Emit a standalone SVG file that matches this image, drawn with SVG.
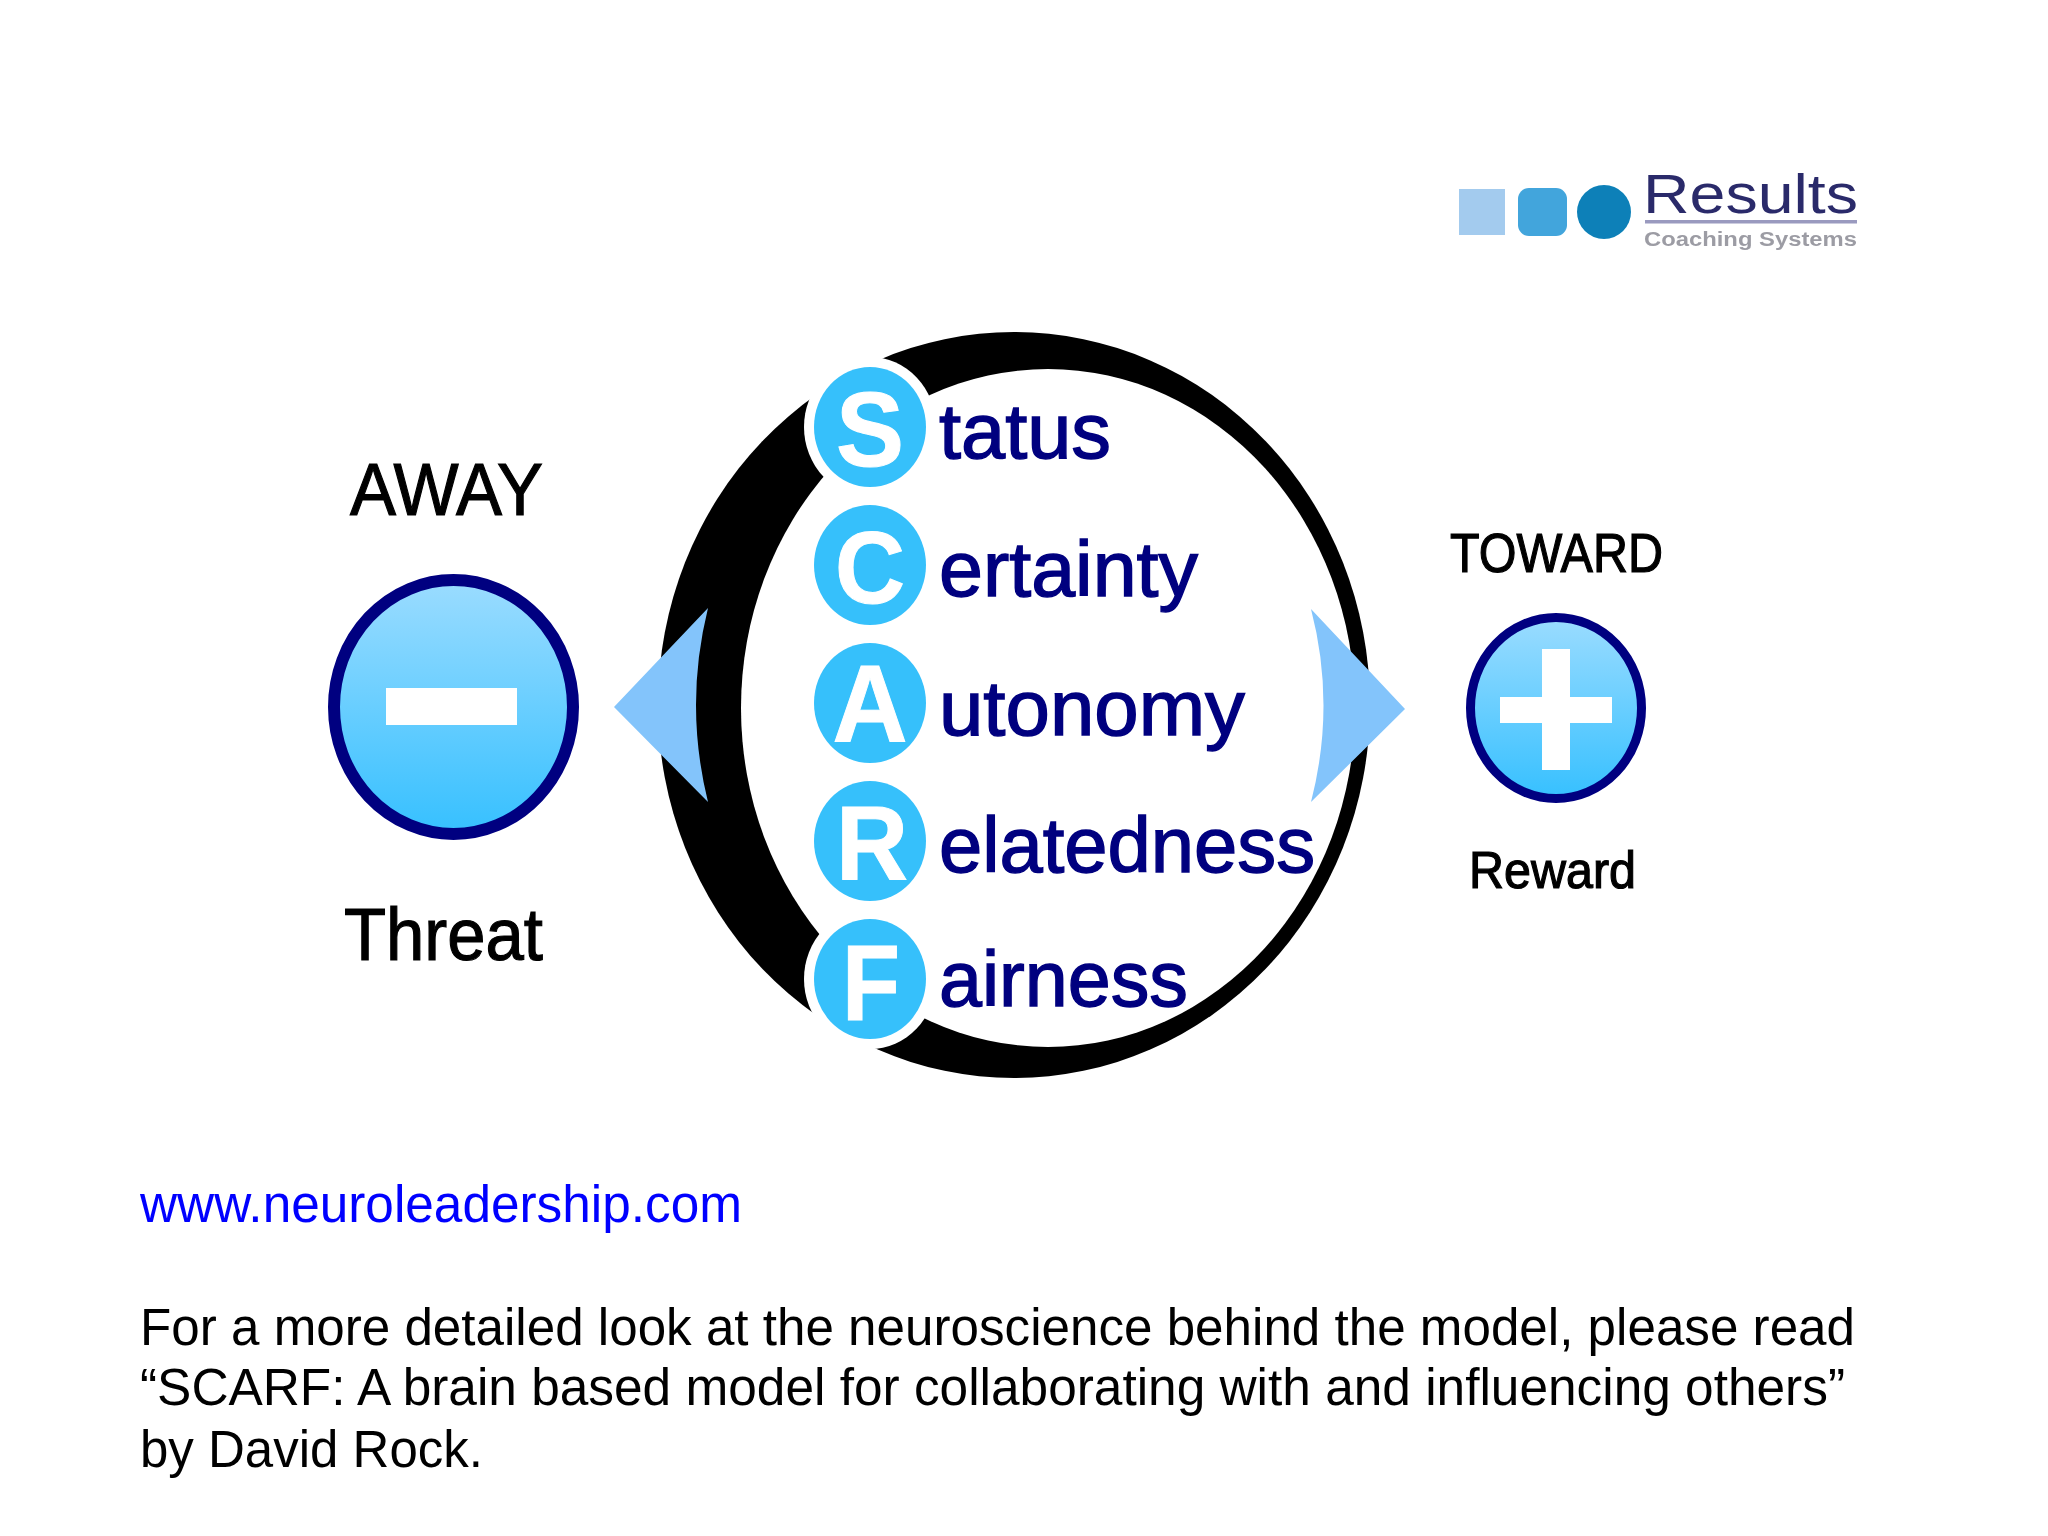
<svg xmlns="http://www.w3.org/2000/svg" width="2048" height="1536" viewBox="0 0 2048 1536">
<defs>
<linearGradient id="bg" x1="0" y1="0" x2="0" y2="1"><stop offset="0" stop-color="#9bdcff"/><stop offset="1" stop-color="#36c0ff"/></linearGradient>
<filter id="soft" x="-5%" y="-5%" width="110%" height="110%"><feGaussianBlur stdDeviation="0.7"/></filter>
</defs>
<style>
text{font-family:"Liberation Sans",Arial,sans-serif}
.word{font-size:78px;fill:#00007f;stroke:#00007f;stroke-width:1.400}
.letter{font-weight:700;fill:#fff;text-anchor:middle;stroke:#fff;stroke-width:1}
.disc{fill:#36c0fb}
.halo{fill:#fff}
.arrow{fill:#83c4fb}
.face{fill:url(#bg);stroke:#000080}
.mark{fill:#fff}
.label{fill:#000;stroke:#000;stroke-width:1.200}
.body{font-size:51px;fill:#000}
</style>
<rect width="2048" height="1536" fill="#fff"/>
<g id="logo">
<rect x="1459" y="189" width="46" height="46" fill="#a3cbee" filter="url(#soft)"/>
<rect x="1518" y="188" width="49" height="48" rx="11" fill="#42a5dc" filter="url(#soft)"/>
<circle cx="1604" cy="212" r="27" fill="#0a80b8" filter="url(#soft)"/>
<text x="1643" y="213" font-size="56" fill="#2b2b6b" textLength="215" lengthAdjust="spacingAndGlyphs" filter="url(#soft)">Results</text>
<rect x="1645" y="220" width="212" height="3.500" fill="#9a9abf" filter="url(#soft)"/>
<text x="1644" y="246" font-size="20" font-weight="700" fill="#9c9ca4" textLength="213" lengthAdjust="spacingAndGlyphs" filter="url(#soft)">Coaching Systems</text>
</g>
<g id="ring">
<ellipse cx="1014" cy="705" rx="356" ry="373" fill="#000"/>
<ellipse cx="1048" cy="708" rx="307" ry="339" fill="#fff"/>
</g>
<g id="connectors">
<path class="arrow" d="M614 707L708 608Q684 705 708 802Z"/>
<path class="arrow" d="M1405 709L1311 609Q1336 705 1311 802Z"/>
</g>
<g id="node-status">
<ellipse class="halo" cx="870" cy="427" rx="66" ry="70"/><ellipse class="disc" cx="870" cy="427" rx="56" ry="60"/>
<text class="letter" x="870" y="466" font-size="106" textLength="68" lengthAdjust="spacingAndGlyphs">S</text>
<text class="word" x="939" y="458" textLength="172" lengthAdjust="spacingAndGlyphs">tatus</text>
</g>
<g id="node-certainty">
<ellipse class="disc" cx="870" cy="565" rx="56" ry="60"/>
<text class="letter" x="870" y="603" font-size="102" textLength="70" lengthAdjust="spacingAndGlyphs">C</text>
<text class="word" x="939" y="596" textLength="259" lengthAdjust="spacingAndGlyphs">ertainty</text>
</g>
<g id="node-autonomy">
<ellipse class="disc" cx="870" cy="703" rx="56" ry="60"/>
<text class="letter" x="870" y="741" font-size="110" textLength="75" lengthAdjust="spacingAndGlyphs">A</text>
<text class="word" x="939" y="735" textLength="306" lengthAdjust="spacingAndGlyphs">utonomy</text>
</g>
<g id="node-relatedness">
<ellipse class="disc" cx="870" cy="841" rx="56" ry="60"/>
<text class="letter" x="872" y="880" font-size="106" textLength="72" lengthAdjust="spacingAndGlyphs">R</text>
<text class="word" x="939" y="872" textLength="376" lengthAdjust="spacingAndGlyphs">elatedness</text>
</g>
<g id="node-fairness">
<ellipse class="halo" cx="870" cy="979" rx="66" ry="70"/><ellipse class="disc" cx="870" cy="979" rx="56" ry="60"/>
<text class="letter" x="871" y="1020" font-size="108" textLength="58" lengthAdjust="spacingAndGlyphs">F</text>
<text class="word" x="939" y="1006" textLength="249" lengthAdjust="spacingAndGlyphs">airness</text>
</g>
<g id="node-away">
<text class="label" x="350" y="515" font-size="75" textLength="193" lengthAdjust="spacingAndGlyphs">AWAY</text>
<ellipse class="face" cx="453.500" cy="707" rx="119.500" ry="127" stroke-width="12"/>
<rect class="mark" x="386" y="688" width="131" height="37"/>
<text class="label" x="344" y="960" font-size="75" textLength="199" lengthAdjust="spacingAndGlyphs">Threat</text>
</g>
<g id="node-toward">
<text class="label" x="1450" y="572" font-size="56" textLength="213" lengthAdjust="spacingAndGlyphs">TOWARD</text>
<ellipse class="face" cx="1556" cy="708" rx="85.500" ry="90.500" stroke-width="9"/>
<path class="mark" d="M1542 649H1570V697H1612V723H1570V770H1542V723H1500V697H1542Z"/>
<text class="label" x="1469" y="888" font-size="52" textLength="167" lengthAdjust="spacingAndGlyphs">Reward</text>
</g>
<g id="caption">
<text class="body" x="140" y="1222" style="fill:#0000ff" textLength="602" lengthAdjust="spacingAndGlyphs">www.neuroleadership.com</text>
<text class="body" x="140" y="1345" textLength="1715" lengthAdjust="spacingAndGlyphs">For a more detailed look at the neuroscience behind the model, please read</text>
<text class="body" x="140" y="1405" textLength="1705" lengthAdjust="spacingAndGlyphs">“SCARF: A brain based model for collaborating with and influencing others”</text>
<text class="body" x="140" y="1467" textLength="343" lengthAdjust="spacingAndGlyphs">by David Rock.</text>
</g>
</svg>
